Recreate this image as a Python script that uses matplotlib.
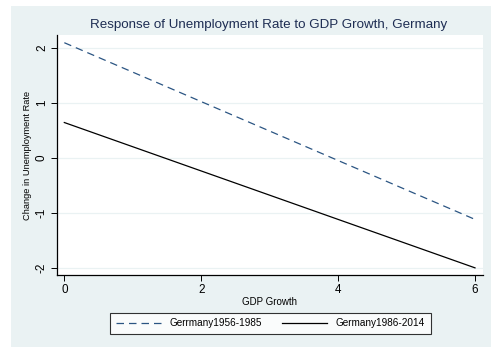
import matplotlib
matplotlib.use("Agg")
import matplotlib.pyplot as plt
from matplotlib.patches import Rectangle
from matplotlib.lines import Line2D

plt.rcParams['font.family'] = ['Liberation Sans', 'DejaVu Sans']

# Fitted response lines (GDP growth -> change in unemployment rate)
gdp_growth = [0, 6]
germany_1956_1985 = [2.09, -1.12]
germany_1986_2014 = [0.64, -2.00]
series_labels = ["Gerrmany1956-1985", "Germany1986-2014"]
x_ticks = [0, 2, 4, 6]
y_ticks = [-2, -1, 0, 1, 2]

bg = "#eaf2f3"
navy = "#2b5583"
title_col = "#1e2d53"

W, H = 491, 347
fig = plt.figure(figsize=(W / 100, H / 100), dpi=100)
fig.patch.set_facecolor("white")
fig.patches.append(Rectangle((11 / W, 0), (W - 11) / W, (H - 6) / H,
                             transform=fig.transFigure, facecolor=bg,
                             edgecolor="none", zorder=-10))

ax = fig.add_axes([57 / W, (H - 275) / H, (483 - 57) / W, (275 - 35) / H])
ax.set_facecolor("white")

ax.plot(gdp_growth, germany_1956_1985, color=navy, lw=0.9,
        dashes=(6, 4), label=series_labels[0])
ax.plot(gdp_growth, germany_1986_2014, color="black", lw=0.9,
        label=series_labels[1])

ax.set_xlim(-0.107, 6.117)
ax.set_ylim(-2.13, 2.23)
ax.set_xticks(x_ticks)
ax.set_yticks(y_ticks)
ax.set_xticklabels([str(t) for t in x_ticks], fontsize=8.4)
ax.set_yticklabels([str(t) for t in y_ticks], fontsize=8.4, rotation=90,
                   va="center")
ax.tick_params(axis="both", length=4.5, width=0.7, color="black", pad=2)
ax.grid(axis="y", color=bg, lw=0.9)
ax.set_axisbelow(True)

for side in ("top", "right"):
    ax.spines[side].set_visible(False)
for side in ("left", "bottom"):
    ax.spines[side].set_linewidth(0.9)
    ax.spines[side].set_color("black")

ax.set_xlabel("GDP Growth", fontsize=7.0, labelpad=1.0)
ax.set_ylabel("Change in Unemployment Rate", fontsize=6.7, labelpad=2.5)

fig.text(269 / W, 1 - 25 / H,
         "Response of Unemployment Rate to GDP Growth, Germany",
         ha="center", va="center", fontsize=9.6, color=title_col)

handles = [Line2D([], [], color=navy, lw=0.9, dashes=(6, 4)),
           Line2D([], [], color="black", lw=0.9)]
leg = fig.legend(handles, series_labels, loc="lower left",
                 bbox_to_anchor=(110 / W, (H - 334) / H),
                 ncol=2, fontsize=7.2, frameon=True,
                 fancybox=False, borderpad=0.55, handlelength=4.5,
                 handletextpad=0.9, columnspacing=2.0, borderaxespad=0)
leg.get_frame().set_edgecolor("black")
leg.get_frame().set_linewidth(0.8)
leg.get_frame().set_facecolor("white")

fig.savefig("out.png", dpi=100)
